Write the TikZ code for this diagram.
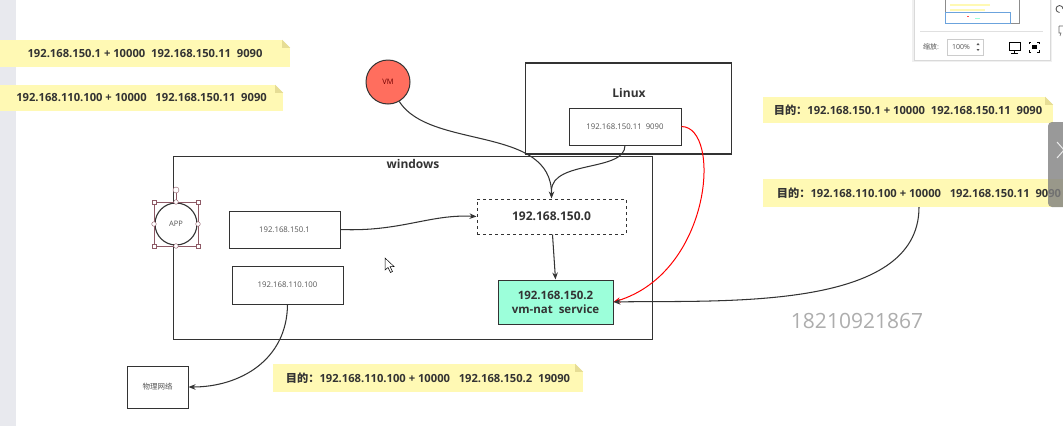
\documentclass[tikz,border=0pt]{standalone}
\usepackage{fontspec}
\setmainfont{Open Sans}
\newfontfamily\cjk{Noto Sans CJK SC}
\usetikzlibrary{arrows.meta}
\definecolor{noteY}{HTML}{FFF9B4}
\definecolor{foldY}{HTML}{E6DD95}
\definecolor{txt}{HTML}{333333}
\definecolor{gtxt}{HTML}{555555}
\definecolor{vmred}{HTML}{FF6E5E}
\definecolor{natg}{HTML}{9CFFDA}
\definecolor{sel}{HTML}{8E5A66}
\definecolor{leftgray}{HTML}{E8E9EE}
\newcommand\notefold[1]{%
  \fill[white] ([xshift=-8pt]#1.north east) -- (#1.north east) -- ([yshift=-8pt]#1.north east) -- cycle;
  \fill[foldY] ([xshift=-8pt]#1.north east) -- ([xshift=-8pt,yshift=-8pt]#1.north east) -- ([yshift=-8pt]#1.north east) -- cycle;}
\begin{document}
\begin{tikzpicture}[x=1pt,y=-1pt,
  note/.style={fill=noteY,inner sep=0pt,font=\bfseries\fontsize{11.2}{13}\selectfont,text=txt},
  box/.style={draw=txt,line width=1pt,fill=white,inner sep=0pt},
  small/.style={font=\fontsize{7.8}{9}\selectfont,text=gtxt},
  ttl/.style={font=\bfseries\fontsize{12}{14}\selectfont,text=txt},
  arr/.style={line width=1.05pt,draw=txt,-{Stealth[length=7pt,width=5.5pt]}},
  hsq/.style={draw=sel,fill=white,line width=0.4pt},
]
\useasboundingbox (0,0) rectangle (1063,426);
\fill[white] (0,0) rectangle (1063,426);
\fill[leftgray] (0,0) rectangle (16,426);

% notes
\node[note,minimum width=290pt,minimum height=27pt] (n1) at (145,53.5) {192.168.150.1 + 10000\ \ 192.168.150.11\ \ 9090};
\notefold{n1}
\node[note,minimum width=283pt,minimum height=26pt] (n2) at (141.5,98) {192.168.110.100 + 10000\ \ \ 192.168.150.11\ \ 9090};
\notefold{n2}
\node[note,minimum width=290pt,minimum height=26pt] (r1) at (908,110) {{\cjk 目的：}192.168.150.1 + 10000\ \ 192.168.150.11\ \ 9090};
\notefold{r1}
\node[note,minimum width=312pt,minimum height=28pt] (r2) at (919,193) {{\cjk 目的：}192.168.110.100 + 10000\ \ \ 192.168.150.11\ \ 9090};
\node[note,minimum width=310pt,minimum height=28pt] (b1) at (428,378) {{\cjk 目的：}192.168.110.100 + 10000\ \ \ 192.168.150.2\ \ 19090};
\notefold{b1}

% boxes
\node[box,minimum width=479pt,minimum height=183pt] (win) at (412.5,247.5) {};
\node[ttl] (wint) at (413,164) {windows};
\node[box,minimum width=206pt,minimum height=91pt,line width=1.2pt] (lin) at (628.5,108.5) {};
\node[ttl] (lint) at (629,93) {Linux};
\node[box,small,minimum width=112pt,minimum height=37pt] (li) at (625,126.5) {192.168.150.11\ \ 9090};

\node[circle,draw=txt,line width=1pt,fill=vmred,minimum size=44pt,inner sep=0pt,font=\fontsize{7.5}{9}\selectfont,text=red!45!black] (vm) at (388,82) {VM};
\node[circle,draw=txt,line width=1.1pt,fill=white,minimum size=42pt,inner sep=0pt,font=\fontsize{7.5}{9}\selectfont,text=gtxt] (app) at (176,224) {APP};

\node[box,small,minimum width=111pt,minimum height=37pt] (b150) at (284.5,229.5) {192.168.150.1};
\node[box,small,minimum width=111pt,minimum height=38pt] (b110) at (287.5,285) {192.168.110.100};
\node[box,dashed,ttl,minimum width=149pt,minimum height=35pt] (dsh) at (551.5,216.5) {192.168.150.0};
\node[box,ttl,fill=natg,minimum width=115pt,minimum height=44pt,align=center,font=\bfseries\fontsize{11.5}{14}\selectfont] (nat) at (555.5,302) {192.168.150.2\\vm-nat\ \ service};
\node[box,minimum width=61pt,minimum height=42pt,font=\cjk\fontsize{7.5}{9}\selectfont,text=gtxt] (phys) at (157.5,387) {物理网络};

% selection handles around APP
\draw[sel,line width=0.4pt] (154,202) rectangle (198,246);
\draw[sel,line width=0.4pt] (176,202) -- (176,193);
\draw[hsq] (176,190) circle (3);
\foreach \p in {(154,202),(198,202),(154,246),(198,246)} {\draw[hsq] \p ++(-2.2,-2.2) rectangle ++(4.4,4.4);}
\foreach \p in {(176,202),(176,246),(154,224),(198,224)} {\draw[hsq] \p circle (2.3);}

% connectors
\draw[arr] (vm.-60) .. controls (430,150) and (552,125) .. (dsh.north);
\draw[line width=1.05pt,draw=txt] (li.south) .. controls (625,172) and (552,160) .. ([yshift=8pt]dsh.north);
\draw[arr] (b150.east) .. controls (400,232) and (430,214) .. (dsh.west);
\draw[arr] ([xshift=1pt]dsh.south) -- (nat.north);
\draw[line width=1pt,draw=red,-{Stealth[length=7pt,width=5.5pt]}] (li.east) .. controls (722,127) and (712,272) .. (nat.east);
\draw[arr] (r2.south) .. controls (919,312) and (720,300) .. (nat.east);
\draw[arr] (b110.south) .. controls (287,360) and (240,387) .. (phys.east);

% watermark
\node[text=black!32,font=\fontsize{21}{25}\selectfont] (wm) at (857,321) {18210921867};

% cursor
\filldraw[fill=white,draw=black,line width=0.5pt] (385,258) -- (385,270) -- (388,267.5) -- (390.5,272.5) -- (392.5,271.5) -- (390,266.5) -- (394,266.5) -- cycle;

% top-right panel
\fill[black!6] (912,-1) rectangle (1052,62);
\filldraw[fill=white,draw=black!15] (914,-1) rectangle (1050,60);
\draw[black!45] (945,-1) rectangle (1019,23);
\fill[noteY] (950,4) rectangle (990,6);
\fill[noteY] (950,9) rectangle (985,11);
\draw[cyan!60!blue!60,line width=0.6pt] (945,12) rectangle (1010,23);
\fill[red!70] (967,15.5) rectangle (969,16.5);
\fill[natg] (975,18) rectangle (980,19);
\draw[black!12] (920,31) -- (1043,31);
\node[font=\cjk\fontsize{7}{8}\selectfont,text=gtxt] (zoomlbl) at (931,47) {缩放:};
\draw[black!20] (947,39) rectangle (983,55);
\node[font=\fontsize{7}{8}\selectfont,text=gtxt] (pct) at (961,47) {100\%};
\fill[gtxt] (976.5,45) -- (979.5,45) -- (978,43) -- cycle;
\fill[gtxt] (976.5,49) -- (979.5,49) -- (978,51) -- cycle;
\draw[black,line width=1pt] (1009,42) rectangle (1020,50);
\draw[black,line width=1pt] (1014.5,50) -- (1014.5,53) (1011,53.5) -- (1018,53.5);
\draw[black,line width=0.9pt] (1029,44) -- (1029,42) -- (1031,42) (1037,42) -- (1039,42) -- (1039,44) (1039,50) -- (1039,52) -- (1037,52) (1031,52) -- (1029,52) -- (1029,50);
\fill[black] (1031.5,45) rectangle (1036.5,49);
\draw[black!70,line width=0.8pt] (1063,9) arc (0:-270:3.5);
\draw[black!60,line width=0.6pt] (1059,26) -- (1064,26) (1059,26) -- (1059,33) -- (1061,33) -- (1060,36);

% right gray tab
\fill[gray,opacity=0.8,rounded corners=4pt] (1048,122) rectangle (1078,207);
\draw[white!85!gray,line width=1pt] (1057,142) -- (1064,150) -- (1057,158);
\end{tikzpicture}
\end{document}
